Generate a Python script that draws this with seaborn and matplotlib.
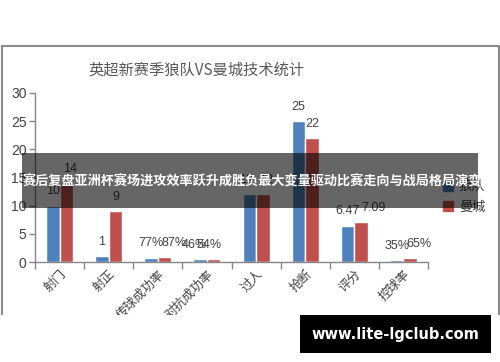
import numpy as np
import pandas as pd
import matplotlib
matplotlib.use("Agg")
import matplotlib.pyplot as plt
from matplotlib.patches import Rectangle
from matplotlib.lines import Line2D
from matplotlib.transforms import ScaledTranslation
import seaborn as sns

categories = ["射门", "射正", "传球成功率", "对抗成功率", "过人", "抢断", "评分", "控球率"]
teams = ["狼队", "曼城"]
wolves = [10, 1, 0.77, 0.46, 12, 25, 6.47, 0.35]
city = [14, 9, 0.87, 0.54, 12, 22, 7.09, 0.65]
wolves_labels = ["10", "1", "77%", "46%", "12", "25", "6.47", "35%"]
city_labels = ["14", "9", "87%", "54%", "12", "22", "7.09", "65%"]
yticks = [0, 5, 10, 15, 20, 25, 30]
title = "英超新赛季狼队VS曼城技术统计"
banner = "赛后复盘亚洲杯赛场进攻效率跃升成胜负最大变量驱动比赛走向与战局格局演变"
watermark = "www.lite-lgclub.com"

colors = ["#4F81BD", "#C0504D"]
# horizontal nudges (points) of data labels, to avoid overlaps as in the source
wolves_nudge = [0, 0, 0, -4, -2, 0, 0, 0]
city_nudge = [3, 0, 7, -3, 2, 0, 9, 6]

sns.set_theme(style="white")
plt.rcParams["font.family"] = ["Noto Sans CJK SC", "DejaVu Sans"]

df = pd.DataFrame({
    "cat": categories * 2,
    "val": wolves + city,
    "team": [teams[0]] * len(categories) + [teams[1]] * len(categories),
})

W, H = 500, 362
fig = plt.figure(figsize=(5, 3.62), dpi=100)
fig.patch.set_facecolor("white")

def fx(x):
    return x / W

def fy(y):
    return 1 - y / H

ax = fig.add_axes([fx(35), fy(262), fx(428) - fx(35), fy(93) - fy(262)])
sns.barplot(data=df, x="cat", y="val", hue="team", palette=colors, width=0.55,
            dodge=True, ax=ax, saturation=1, legend=False, order=categories,
            hue_order=teams)

for cont, labs, nudges in zip(ax.containers, [wolves_labels, city_labels],
                              [wolves_nudge, city_nudge]):
    anns = ax.bar_label(cont, labels=labs, padding=6, fontsize=9,
                        color="#404040", family="Liberation Sans")
    for ann, dx in zip(anns, nudges):
        ann.xyann = (dx, ann.xyann[1])

ax.set_ylim(0, 30)
ax.set_xlim(-0.5, len(categories) - 0.5)
ax.set_yticks(yticks)
ax.set_yticklabels([str(v) for v in yticks], fontsize=10, color="#404040",
                   family="Liberation Sans")
ax.set_xticks(np.arange(len(categories)))
ax.set_xticklabels(categories, rotation=45, ha="right", rotation_mode="anchor",
                   fontsize=9, color="#404040")
offset = ScaledTranslation(4 / 100, -12 / 100, fig.dpi_scale_trans)
for lab in ax.get_xticklabels():
    lab.set_transform(lab.get_transform() + offset)
ax.set_xticks(np.arange(-0.5, len(categories), 1), minor=True)
ax.tick_params(axis="x", which="major", length=0, pad=4)
ax.tick_params(axis="x", which="minor", length=5, width=1, color="#868686",
               direction="out", bottom=True)
ax.tick_params(axis="y", length=4, width=1, color="#868686", direction="out",
               left=True, pad=2)
ax.set_xlabel("")
ax.set_ylabel("")
for s in ["top", "right"]:
    ax.spines[s].set_visible(False)
for s in ["left", "bottom"]:
    ax.spines[s].set_color("#868686")
    ax.spines[s].set_linewidth(1)
ax.set_facecolor("white")

fig.text(fx(196), fy(70), title, ha="center", va="center", fontsize=11,
         color="#595959")

handles = [Line2D([0], [0], marker="s", linestyle="", markersize=7,
                  markerfacecolor=c, markeredgecolor=c) for c in colors]
fig.legend(handles, teams, loc="center left",
           bbox_to_anchor=(fx(430), fy(197)), frameon=False, fontsize=9.5,
           handletextpad=0.3, labelspacing=0.55, handlelength=1.0,
           labelcolor="#404040")

# chart frame
frame_kw = dict(color="#8c8c8c", lw=1.5, transform=fig.transFigure, zorder=5)
fig.add_artist(Line2D([fx(1.5), fx(1.5)], [fy(46), fy(315)], **frame_kw))
fig.add_artist(Line2D([fx(1.5), fx(498.5)], [fy(46), fy(46)], **frame_kw))
fig.add_artist(Line2D([fx(498.5), fx(498.5)], [fy(46), fy(315)], **frame_kw))

# white area below cropped chart
fig.add_artist(Rectangle((0, 0), 1, fy(315), transform=fig.transFigure,
                         facecolor="white", edgecolor="none", zorder=10))

# banner
fig.add_artist(Rectangle((fx(22), fy(208)), fx(478) - fx(22), fy(153) - fy(208),
                         transform=fig.transFigure, facecolor="black",
                         alpha=0.6, edgecolor="none", zorder=11))
fig.text(fx(252), fy(182), banner, ha="center", va="center", fontsize=9.45,
         color="white", fontweight="bold", zorder=12)

# watermark
fig.add_artist(Rectangle((fx(300), fy(353)), fx(491) - fx(300), fy(315) - fy(353),
                         transform=fig.transFigure, facecolor="black",
                         edgecolor="none", zorder=11))
fig.text(fx(395), fy(334), watermark, ha="center", va="center", fontsize=10.5,
         color="white", fontweight="bold", family="DejaVu Sans", zorder=12)

fig.savefig("out.png", dpi=100)
